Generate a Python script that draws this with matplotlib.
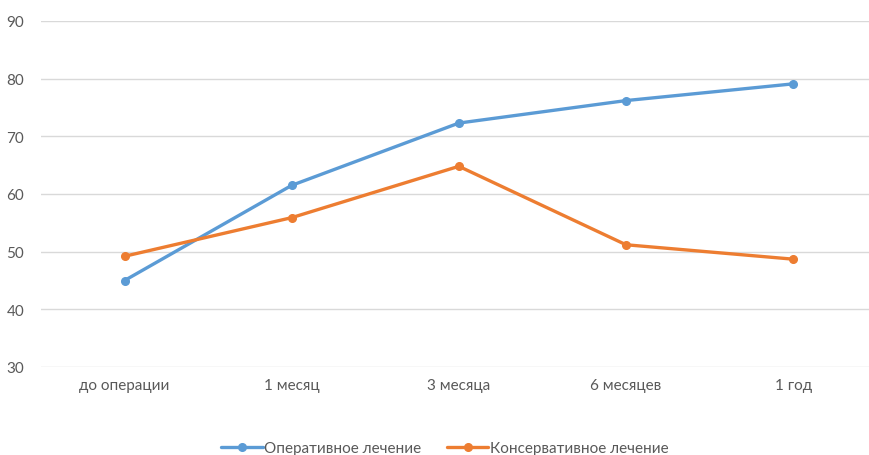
import matplotlib
matplotlib.use("Agg")
import matplotlib.pyplot as plt

categories = ["до операции", "1 месяц", "3 месяца", "6 месяцев", "1 год"]
operative = [45.0, 61.5, 72.3, 76.2, 79.1]
conservative = [49.2, 55.9, 64.8, 51.2, 48.7]
series_names = ["Оперативное лечение", "Консервативное лечение"]
y_ticks = [30, 40, 50, 60, 70, 80, 90]

plt.rcParams["font.family"] = ["Lato", "DejaVu Sans"]

fig = plt.figure(figsize=(8.7, 4.56), dpi=100)
ax = fig.add_axes([41 / 870, 1 - 368 / 456, 1 - 41 / 870, (368 - 22) / 456])

x = list(range(len(categories)))
ax.plot(x, operative, color="#5B9BD5", lw=2.4, marker="o", ms=5.5,
        label=series_names[0], solid_capstyle="round", zorder=3)
ax.plot(x, conservative, color="#ED7D31", lw=2.4, marker="o", ms=5.5,
        label=series_names[1], solid_capstyle="round", zorder=3)

ax.set_xlim(-0.5, 4.46)
ax.set_ylim(30, 90)
ax.set_yticks(y_ticks)
ax.set_xticks(x)
ax.set_xticklabels(categories)
ax.grid(axis="y", color="#D9D9D9", lw=1)
ax.set_axisbelow(True)
for s in ax.spines.values():
    s.set_visible(False)
ax.tick_params(axis="both", length=0, labelsize=11, colors="#595959")
ax.tick_params(axis="y", pad=12)
ax.tick_params(axis="x", pad=8)

fig.legend(loc="center", bbox_to_anchor=(445 / 870, 1 - 449 / 456), ncol=2,
           frameon=False, fontsize=11, handlelength=2.7, columnspacing=1.7,
           handletextpad=0.1, labelcolor="#595959")

fig.savefig("out.png", dpi=100)
